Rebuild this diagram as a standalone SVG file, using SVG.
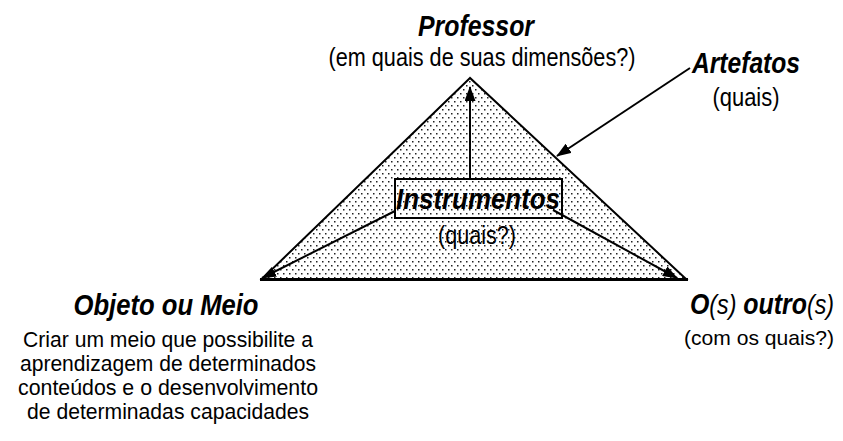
<svg xmlns="http://www.w3.org/2000/svg" width="843" height="441" viewBox="0 0 843 441">
  <style>
    .lbl { font-family: "Liberation Sans", Arial, sans-serif; font-weight: bold; font-style: italic; font-size: 30px; fill: #000; }
    .sub { font-family: "Liberation Sans", Arial, sans-serif; font-size: 25px; fill: #000; }
    .body { font-family: "Liberation Sans", Arial, sans-serif; font-size: 22px; fill: #000; }
    .it { font-family: "Liberation Sans", Arial, sans-serif; font-style: italic; font-weight: normal; font-size: 28px; }
    .conn { fill: none; stroke: #000; stroke-width: 2; }
  </style>
  <defs>
    <pattern id="dots" x="0" y="0" width="6" height="8" patternUnits="userSpaceOnUse">
      <rect width="6" height="8" fill="#fff"/>
      <rect x="1" y="1" width="1.5" height="1.5" fill="#222"/>
      <rect x="4" y="5" width="1.5" height="1.5" fill="#222"/>
    </pattern>
    <marker id="ah" viewBox="0 0 15 11" refX="14" refY="5.5" markerWidth="15" markerHeight="11" markerUnits="userSpaceOnUse" orient="auto">
      <path d="M0,0 L15,5.5 L0,11 z" fill="#000"/>
    </marker>
  </defs>

  <g id="triangle">
    <polygon points="470,78 262,279 686,279" fill="url(#dots)" stroke="#000" stroke-width="2" stroke-linejoin="miter"/>
    <line x1="260" y1="279.5" x2="688" y2="279.5" stroke="#000" stroke-width="3"/>
  </g>

  <g id="connectors">
    <line class="conn" x1="470" y1="179" x2="470" y2="87" marker-end="url(#ah)"/>
    <line class="conn" x1="395" y1="211" x2="262" y2="278" marker-end="url(#ah)"/>
    <line class="conn" x1="553" y1="210" x2="677" y2="278" marker-end="url(#ah)"/>
    <line class="conn" x1="690" y1="68" x2="557" y2="156" marker-end="url(#ah)"/>
  </g>

  <g id="professor">
    <text class="lbl" x="476" y="36" text-anchor="middle" textLength="116" lengthAdjust="spacingAndGlyphs">Professor</text>
    <text class="sub" x="482" y="66" text-anchor="middle" textLength="307" lengthAdjust="spacingAndGlyphs">(em quais de suas dimensões?)</text>
  </g>

  <g id="artefatos">
    <text class="lbl" x="746" y="73" text-anchor="middle" textLength="108" lengthAdjust="spacingAndGlyphs">Artefatos</text>
    <text class="sub" x="746" y="106" text-anchor="middle" textLength="67" lengthAdjust="spacingAndGlyphs">(quais)</text>
  </g>

  <g id="instrumentos">
    <rect x="395" y="179" width="167" height="39" fill="none" stroke="#000" stroke-width="2"/>
    <text class="lbl" x="478" y="209" text-anchor="middle" textLength="164" lengthAdjust="spacingAndGlyphs">Instrumentos</text>
    <text class="sub" x="477" y="244" text-anchor="middle" textLength="78" lengthAdjust="spacingAndGlyphs">(quais?)</text>
  </g>

  <g id="objeto">
    <text class="lbl" x="166" y="315" text-anchor="middle" textLength="185" lengthAdjust="spacingAndGlyphs">Objeto ou Meio</text>
    <text class="body" x="168" y="347" text-anchor="middle" textLength="290" lengthAdjust="spacingAndGlyphs">Criar um meio que possibilite a</text>
    <text class="body" x="168" y="371" text-anchor="middle" textLength="296" lengthAdjust="spacingAndGlyphs">aprendizagem de determinados</text>
    <text class="body" x="168" y="395" text-anchor="middle" textLength="300" lengthAdjust="spacingAndGlyphs">conteúdos e o desenvolvimento</text>
    <text class="body" x="168" y="419" text-anchor="middle" textLength="282" lengthAdjust="spacingAndGlyphs">de determinadas capacidades</text>
  </g>

  <g id="outros">
    <text class="lbl" transform="translate(834,314) scale(0.83,1)" text-anchor="end">O<tspan class="it">(s)</tspan> outro<tspan class="it">(s)</tspan></text>
    <text class="sub" x="759" y="345" text-anchor="middle" style="font-size:21px" textLength="150" lengthAdjust="spacingAndGlyphs">(com os quais?)</text>
  </g>
</svg>
